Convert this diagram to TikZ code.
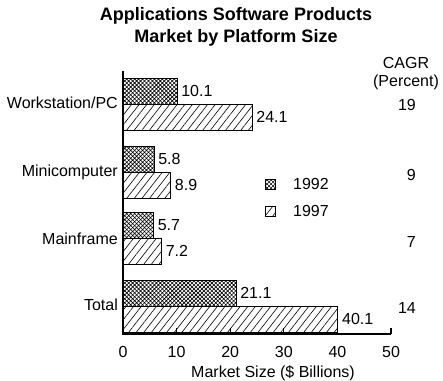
\documentclass[tikz,border=0pt]{standalone}
\usepackage{fontspec}
\setmainfont{Liberation Sans}
\usetikzlibrary{patterns.meta, calc}

% x position of a value in $ billions
\newcommand{\xv}[1]{{123+5.36*#1}}

\begin{document}
\begin{tikzpicture}[
  x=1pt, y=-1pt,
  lbl/.style={font=\fontsize{16}{18}\selectfont, inner sep=0pt},
  ttl/.style={font=\fontsize{18}{22}\selectfont\bfseries, align=center, inner sep=0pt},
  bar92/.style={draw, line width=0.9pt,
                pattern={Hatch[angle=45, distance=2.8pt, line width=0.6pt]}},
  bar97/.style={draw, line width=0.9pt,
                pattern={Lines[angle=52, distance=6pt, line width=0.6pt]}},
  axis/.style={line width=1.1pt},
]
\useasboundingbox (0,0) rectangle (443,380);

% title
\node[ttl] (title) at (236,27) {Applications Software Products\\Market by Platform Size};

% CAGR column head
\node[lbl] (cagr)    at (406,63) {CAGR};
\node[lbl] (percent) at (406,82) {(Percent)};

% bars: 1992 above, 1997 below each group centre
\draw[bar92] (\xv{0},78)  rectangle (\xv{10.1},104) coordinate (ws92);
\draw[bar97] (\xv{0},104) rectangle (\xv{24.1},130) coordinate (ws97);
\draw[bar92] (\xv{0},146) rectangle (\xv{5.8},172)  coordinate (mc92);
\draw[bar97] (\xv{0},172) rectangle (\xv{8.9},198)  coordinate (mc97);
\draw[bar92] (\xv{0},212) rectangle (\xv{5.7},238)  coordinate (mf92);
\draw[bar97] (\xv{0},238) rectangle (\xv{7.2},264)  coordinate (mf97);
\draw[bar92] (\xv{0},280) rectangle (\xv{21.1},306) coordinate (tt92);
\draw[bar97] (\xv{0},306) rectangle (\xv{40.1},332) coordinate (tt97);

% value labels
\node[lbl, anchor=west] (v1) at ($(ws92)+(4,-13)$) {10.1};
\node[lbl, anchor=west] (v2) at ($(ws97)+(4,-13)$) {24.1};
\node[lbl, anchor=west] (v3) at ($(mc92)+(4,-13)$) {5.8};
\node[lbl, anchor=west] (v4) at ($(mc97)+(4,-13)$) {8.9};
\node[lbl, anchor=west] (v5) at ($(mf92)+(4,-13)$) {5.7};
\node[lbl, anchor=west] (v6) at ($(mf97)+(4,-13)$) {7.2};
\node[lbl, anchor=west] (v7) at ($(tt92)+(4,-13)$) {21.1};
\node[lbl, anchor=west] (v8) at ($(tt97)+(4,-13)$) {40.1};

% categories
\node[lbl, anchor=east] (ws) at (118,103) {Workstation/PC};
\node[lbl, anchor=east] (mc) at (118,172) {Minicomputer};
\node[lbl, anchor=east] (mf) at (118,239) {Mainframe};
\node[lbl, anchor=east] (tt) at (118,305) {Total};

% growth rates
\node[lbl, anchor=east] (g1) at (416,105) {19};
\node[lbl, anchor=east] (g2) at (416,175) {9};
\node[lbl, anchor=east] (g3) at (416,242) {7};
\node[lbl, anchor=east] (g4) at (416,308) {14};

% legend
\draw[bar92, line width=0.8pt] (265,179) rectangle (275,189);
\draw[bar97, line width=0.8pt] (265,206) rectangle (275,216);
\node[lbl, anchor=west] (l92) at (293,184) {1992};
\node[lbl, anchor=west] (l97) at (293,211) {1997};

% axes
\draw[axis] (\xv{0},71) -- (\xv{0},334) -- (\xv{50},334);
\foreach \v in {10,20,30,40,50}
  \draw[axis] (\xv{\v},334) -- (\xv{\v},328);
\foreach \v in {0,10,20,30,40,50}
  \node[lbl] (t\v) at (\xv{\v},352) {\v};
\node[lbl] (xlabel) at (273,373) {Market Size (\$ Billions)};
\end{tikzpicture}
\end{document}
